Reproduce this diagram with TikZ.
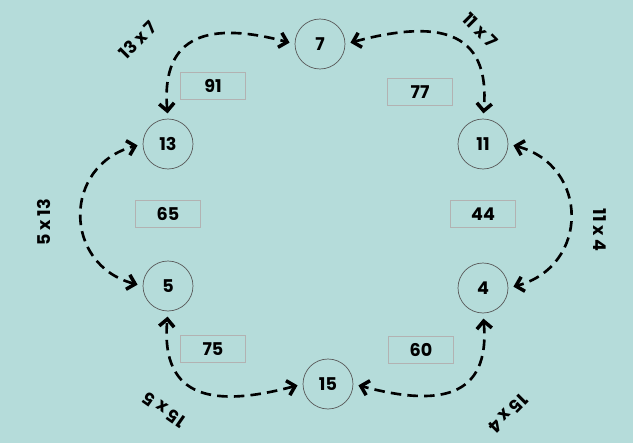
\documentclass[tikz,border=0pt]{standalone}
\usepackage{fontspec}
\setmainfont{Poppins}
\usetikzlibrary{arrows.meta}
\definecolor{fond}{HTML}{B5DCDA}
\begin{document}
\begin{tikzpicture}[x=0.02cm,y=-0.02cm]
\tikzstyle{noeud}=[draw=gray!70!black,circle,minimum size=1.0cm,inner sep=0pt,font=\bfseries]
\tikzstyle{produit}=[draw=gray!60,fill=fond,minimum width=1.3cm,minimum height=0.55cm,font=\bfseries]
\tikzstyle{fleche}=[{Straight Barb[length=1.5mm,width=3mm,line width=2pt]}-{Straight Barb[length=1.5mm,width=3mm,line width=2pt]},line width=1.5pt,dash pattern=on 6pt off 3.5pt,shorten <=3pt,shorten >=3pt,looseness=1.5]
\tikzstyle{calcul}=[font=\bfseries]

\fill[fond] (0,0) rectangle (633,443);

\node[noeud] (n7) at (320,44) {7};
\node[noeud] (n13) at (168,144) {13};
\node[noeud] (n11) at (483,144) {11};
\node[noeud] (n5) at (168,286) {5};
\node[noeud] (n4) at (483,288) {4};
\node[noeud] (n15) at (328,384) {15};

\node[produit] (p91) at (213,86) {91};
\node[produit] (p77) at (420,92) {77};
\node[produit] (p65) at (168,214) {65};
\node[produit] (p44) at (483,214) {44};
\node[produit] (p75) at (213,349) {75};
\node[produit] (p60) at (421,350) {60};

\draw[fleche] (n13.north) to[out=95,in=165] (n7.west);
\draw[fleche] (n7.east) to[out=15,in=85] (n11.north);
\draw[fleche] (n11.east) to[out=-15,in=15] (n4.east);
\draw[fleche] (n4.south) to[out=-85,in=-15] (n15.east);
\draw[fleche] (n15.west) to[out=195,in=-95] (n5.south);
\draw[fleche] (n5.west) to[out=165,in=195] (n13.west);

\node[calcul,rotate=45] (c137) at (138,40) {13 x 7};
\node[calcul,rotate=-45] (c117) at (480,30) {11 x 7};
\node[calcul,rotate=90] (c513) at (44,222) {5 x 13};
\node[calcul,rotate=-90] (c114) at (600,230) {11 x 4};
\node[calcul,rotate=145] (c155) at (164,410) {15 x 5};
\node[calcul,rotate=225] (c154) at (508,414) {15 x 4};
\end{tikzpicture}
\end{document}
